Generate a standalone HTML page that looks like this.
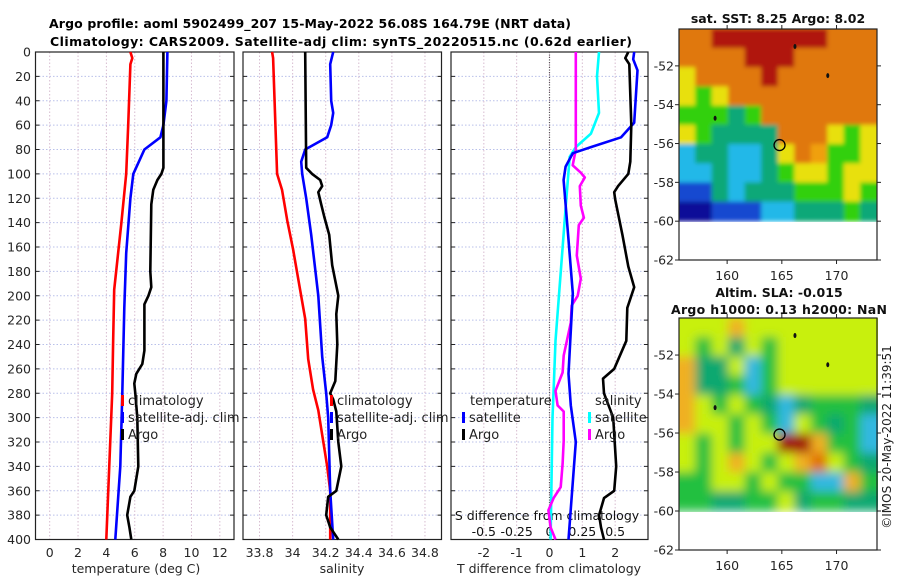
<!DOCTYPE html>
<html><head><meta charset="utf-8"><style>
html,body{margin:0;padding:0;background:#fff;}
svg{display:block;font-family:"DejaVu Sans","Liberation Sans",sans-serif;}
</style></head><body>
<svg id="fig" width="900" height="580" viewBox="0 0 900 580" xmlns="http://www.w3.org/2000/svg">
<defs>
<filter id="blurA" filterUnits="userSpaceOnUse" x="670" y="20" width="220" height="210"><feGaussianBlur stdDeviation="2"/></filter>
<filter id="blurB" filterUnits="userSpaceOnUse" x="670" y="305" width="220" height="215"><feGaussianBlur stdDeviation="5"/></filter>
<clipPath id="clipTop"><rect x="679" y="29" width="198" height="193"/></clipPath>
<clipPath id="clipBot"><rect x="679" y="318" width="199" height="194"/></clipPath>
</defs>
<text x="310" y="28" text-anchor="middle" font-weight="bold" font-size="12.5" textLength="522">Argo profile: aoml 5902499_207 15-May-2022 56.08S 164.79E (NRT data)</text>
<text x="341" y="46" text-anchor="middle" font-weight="bold" font-size="12.5" textLength="582">Climatology: CARS2009. Satellite-adj clim: synTS_20220515.nc (0.62d earlier)</text>
<g id="plots"></g>
<g id="maps"></g>
</svg>
<script>
// ---------- Data ----------
const depthTicks = [0,20,40,60,80,100,120,140,160,180,200,220,240,260,280,300,320,340,360,380,400];
const tempTicks = [0,2,4,6,8,10,12];
const salTicks = [33.8,34,34.2,34.4,34.6,34.8];
const salTickLabels = ["33.8","34","34.2","34.4","34.6","34.8"];
const tdiffTicks = [-2,-1,0,1,2];
const sdiffTicks = [-0.5,-0.25,0,0.25,0.5];
const sdiffTickLabels = ["-0.5","-0.25","0","0.25","0.5"];

const tClimDepth = [0,5,10,60,100,140,195,235,280,400];
const tClimVal = [5.69,5.83,5.69,5.54,5.40,5.06,4.55,4.48,4.41,3.99];
const tSatDepth = [0,40,60,70,80,100,120,165,210,280,340,400];
const tSatVal = [8.30,8.23,8.02,7.81,6.68,5.90,5.69,5.40,5.26,5.12,4.98,4.63];
const tArgoDepth = [0,95,100,105,113,125,180,193,200,207,245,256,264,272,280,300,340,360,365,380,390,400];
const tArgoVal = [8.02,8.02,7.88,7.60,7.31,7.17,7.10,7.17,6.96,6.68,6.68,6.53,6.11,5.97,6.04,6.18,6.25,5.97,5.69,5.47,5.62,5.76];

const sClimDepth = [0,5,100,113,138,162,195,219,252,277,294,340,360,400];
const sClimVal = [33.876,33.882,33.906,33.936,33.967,34.003,34.045,34.076,34.094,34.124,34.155,34.209,34.227,34.227];
const sSatDepth = [0,10,40,50,60,70,80,90,100,120,150,200,250,280,300,360,400];
const sSatVal = [34.245,34.227,34.233,34.245,34.233,34.209,34.076,34.052,34.058,34.082,34.112,34.155,34.179,34.203,34.215,34.227,34.245];
const sArgoDepth = [0,95,100,105,110,115,125,135,150,175,200,215,240,270,280,285,295,320,340,360,365,380,390,400];
const sArgoVal = [34.076,34.082,34.118,34.167,34.179,34.155,34.173,34.191,34.221,34.239,34.276,34.264,34.270,34.258,34.227,34.245,34.264,34.276,34.294,34.264,34.215,34.203,34.227,34.276];

const dTSatDepth = [0,6,15,58,70,78,83,94,105,154,198,264,290,320,400];
const dTSatVal = [2.58,2.55,2.68,2.58,2.18,1.26,0.71,0.49,0.43,0.58,0.71,0.58,0.65,0.80,0.58];
const dTArgoDepth = [0,5,10,60,90,100,110,115,121,150,176,193,210,237,260,268,280,300,340,360,366,380,390,400];
const dTArgoVal = [2.40,2.31,2.43,2.49,2.46,2.40,2.09,1.97,2.00,2.22,2.40,2.58,2.37,2.34,1.97,1.63,1.66,1.94,2.03,1.97,1.66,1.51,1.57,1.66];
const dSSatDepth = [0,20,50,67,78,86,127,181,237,278,300,400];
const dSSatVal = [0.377,0.362,0.377,0.315,0.2,0.154,0.123,0.085,0.046,0.031,0.023,0.008];
const dSArgoDepth = [0,80,93,99,103,110,126,136,142,167,186,200,208,222,249,263,278,290,295,319,338,357,366,376,390,400];
const dSArgoVal = [0.2,0.2,0.177,0.238,0.269,0.231,0.238,0.262,0.223,0.208,0.238,0.215,0.169,0.162,0.108,0.1,0.046,0.062,0.108,0.108,0.1,0.085,0.031,-0.008,0.008,0.046];

const latTicks = [-52,-54,-56,-58,-60,-62];
const lonTicks = [160,165,170];
const sstGrid = [
"OORRRRRRROOO",
"OOOORRROOOOO",
"YOOOOROOOOOO",
"YGYOOOOOOOOO",
"GGGTGOOOOOOO",
"YGTTTTOOOYGY",
"CTTCCTYOoGGY",
"CCTCCTGYYGYY",
"BBTCTTTGGGYG",
"NNBBBCCTTTGT"];
const slaGrid = [
"YYYoYYYYYYYY",
"YGYTYGYYYYYY",
"oTTYCGYYYYYY",
"oTTGCGYYYYYY",
"oYGYGTCTGGGT",
"oYYGYGCYGTGC",
"YGYGYYRRoGGC",
"YGYoYGYoOYGT",
"GGYYGYGGCCoG",
"GGTTGGYTGGTT"];
const floatLon = 164.79, floatLat = -56.08;

// ---------- Helpers ----------
const NS = "http://www.w3.org/2000/svg";
const plots = document.getElementById('plots');
const maps = document.getElementById('maps');
function mk(tag, attrs, parent){const e=document.createElementNS(NS,tag);for(const k in attrs)e.setAttribute(k,attrs[k]);(parent||plots).appendChild(e);return e;}
const Y0=52, Y1=539.5;
function yD(d){return Y0+(d/400)*(Y1-Y0);}
function lin(a,b,p,q){return v=>p+(v-a)/(b-a)*(q-p);}
const panels=[
 {x0:35.5,x1:234,min:-1,max:13,name:'temperature'},
 {x0:243,x1:441.5,min:33.7,max:34.9,name:'salinity'},
 {x0:451,x1:648,min:-3,max:3,name:'difference'}];
panels.forEach(p=>p.x=lin(p.min,p.max,p.x0,p.x1));
const sx3 = lin(-0.75,0.75,panels[2].x0,panels[2].x1);

function gridAndBox(p,xt,idx){
  const g=mk('g',{});
  
  
  depthTicks.forEach(d=>{mk('line',{x1:p.x0,x2:p.x1,y1:yD(d),y2:yD(d),stroke:'#b9c0ea','stroke-width':1,'stroke-dasharray':'1.5,2'},g);});
  xt.forEach(v=>{mk('line',{x1:p.x(v),x2:p.x(v),y1:Y0,y2:Y1,stroke:'#d7bcd0','stroke-width':1,'stroke-dasharray':'1.5,2'},g);});
  depthTicks.forEach(d=>{mk('line',{x1:p.x0,x2:p.x0+4,y1:yD(d),y2:yD(d),stroke:'#222'},g);mk('line',{x1:p.x1,x2:p.x1-4,y1:yD(d),y2:yD(d),stroke:'#222'},g);});
  const r=mk('rect',{x:p.x0,y:Y0,width:p.x1-p.x0,height:Y1-Y0,fill:'none',stroke:'#222','stroke-width':1.2});
  
  
}
function line(p,xs,ds,col,name,sc){
  const f=sc||p.x;
  const pts=xs.map((v,i)=>f(v).toFixed(1)+','+yD(ds[i]).toFixed(1)).join(' ');
  const pl=mk('polyline',{points:pts,fill:'none',stroke:col,'stroke-width':2.6,'stroke-linejoin':'round'});
  
  
}
function txt(x,y,s,attrs,parent){const t=mk('text',Object.assign({x:x,y:y,'font-size':12.5,fill:'#262626'},attrs||{}),parent);t.textContent=s;return t;}

gridAndBox(panels[0],tempTicks,0);
gridAndBox(panels[1],salTicks,1);
gridAndBox(panels[2],tdiffTicks,2);
const zl=mk('line',{x1:panels[2].x(0),x2:panels[2].x(0),y1:Y0,y2:Y1,stroke:'#555','stroke-width':1.2,'stroke-dasharray':'1,1.5'});



depthTicks.forEach(d=>{const t=txt(31,yD(d)+4.5,String(d),{'text-anchor':'end'});

});
tempTicks.forEach(v=>{const t=txt(panels[0].x(v),557,String(v),{'text-anchor':'middle'});

});
salTicks.forEach((v,i)=>{const t=txt(panels[1].x(v),557,salTickLabels[i],{'text-anchor':'middle'});

});
tdiffTicks.forEach(v=>{const t=txt(panels[2].x(v),557,String(v),{'text-anchor':'middle'});

});
sdiffTicks.forEach((v,i)=>{const t=txt(sx3(v),536,sdiffTickLabels[i],{'text-anchor':'middle','fill':'#111'});

});
let t;
t=txt(136,573,'temperature (deg C)',{'text-anchor':'middle'});


t=txt(342,573,'salinity',{'text-anchor':'middle'});


t=txt(549,573,'T difference from climatology',{'text-anchor':'middle'});


t=txt(547,520,'S difference from climatology',{'text-anchor':'middle','fill':'#111'});



line(panels[0],tClimVal,tClimDepth,'#ff0000','temperature-climatology-line');
line(panels[0],tSatVal,tSatDepth,'#0000ff','temperature-satellite-line');
line(panels[0],tArgoVal,tArgoDepth,'#000000','temperature-argo-line');
line(panels[1],sClimVal,sClimDepth,'#ff0000','salinity-climatology-line');
line(panels[1],sSatVal,sSatDepth,'#0000ff','salinity-satellite-line');
line(panels[1],sArgoVal,sArgoDepth,'#000000','salinity-argo-line');
line(panels[2],dSSatVal,dSSatDepth,'#00ffff','s-diff-satellite-line',sx3);
line(panels[2],dSArgoVal,dSArgoDepth,'#ff00ff','s-diff-argo-line',sx3);
line(panels[2],dTSatVal,dTSatDepth,'#0000ff','t-diff-satellite-line');
line(panels[2],dTArgoVal,dTArgoDepth,'#000000','t-diff-argo-line');

function legend(x,y,col,label,name){
  const g=mk('g',{});
  
  
  mk('rect',{x:x,y:y-10,width:3,height:11,fill:col},g);
  txt(x+7,y,label,{'font-size':13,fill:'#222'},g);
}
legend(121,405,'#ff0000','climatology','legend-entry-climatology');
legend(121,422,'#0000ff','satellite-adj. clim','legend-entry-satellite-adj');
legend(121,439,'#000000','Argo','legend-entry-argo');
legend(330,405,'#ff0000','climatology','legend-entry-climatology-sal');
legend(330,422,'#0000ff','satellite-adj. clim','legend-entry-satellite-adj-sal');
legend(330,439,'#000000','Argo','legend-entry-argo-sal');
t=txt(470,405,'temperature',{'font-size':13,fill:'#222'});


t=txt(595,405,'salinity',{'font-size':13,fill:'#222'});


legend(462,422,'#0000ff','satellite','legend-entry-t-satellite');
legend(462,439,'#000000','Argo','legend-entry-t-argo');
legend(588,422,'#00ffff','satellite','legend-entry-s-satellite');
legend(588,439,'#ff00ff','Argo','legend-entry-s-argo');

// ---------- Maps ----------
const sstCol={R:'#b01808',O:'#e07808',o:'#f0a010',Y:'#e8e010',G:'#30d010',T:'#10a878',C:'#20b8e8',B:'#1848d0',N:'#081098'};
const slaCol={Y:'#c8f010',o:'#f0b020',O:'#e07000',R:'#a00808',G:'#20c040',T:'#10a870',C:'#30b8e0'};
function drawMap(top,bottom,grid,cols,clipId,filt,name){
  const x0=679,x1=877;
  const lonX=lin(155.6,173.7,x0,x1);
  const latY=lin(-50.1,-62,top,bottom);
  const g=mk('g',{'clip-path':'url(#'+clipId+')'},maps);
  
  
  const gi=mk('g',{filter:'url(#'+filt+')'},g);
  const rows=grid.length, nc=grid[0].length;
  const yTop=latY(-50.1), yBot=latY(-60);
  const cw=(x1-x0)/nc, rh=(yBot-yTop)/rows;
  mk('rect',{x:x0-10,y:yTop-10,width:x1-x0+20,height:10,fill:cols[grid[0][0]]},gi);
  for(let r=0;r<rows;r++)for(let c=0;c<nc;c++){
    const w=(c===0||c===nc-1)?cw+10:cw+0.6;
    const xx=(c===0)?x0-10:x0+c*cw-0.3;
    mk('rect',{x:xx,y:yTop+r*rh-0.3,width:w,height:rh+0.6,fill:cols[grid[r][c]]},gi);
  }
  const frame=mk('rect',{x:x0,y:top,width:x1-x0,height:bottom-top,fill:'none',stroke:'#222','stroke-width':1.2},maps);
  
  
  latTicks.forEach(v=>{mk('line',{x1:x0-4,x2:x0,y1:latY(v),y2:latY(v),stroke:'#222'},maps);mk('line',{x1:x1,x2:x1+4,y1:latY(v),y2:latY(v),stroke:'#222'},maps);
    const tt=txt(674,latY(v)+4.5,String(v),{'text-anchor':'end'},maps);
    
    });
  lonTicks.forEach(v=>{mk('line',{x1:lonX(v),x2:lonX(v),y1:bottom,y2:bottom+4,stroke:'#222'},maps);mk('line',{x1:lonX(v),x2:lonX(v),y1:top-4,y2:top,stroke:'#222'},maps);
    const tt=txt(lonX(v),bottom+20,String(v),{'text-anchor':'middle'},maps);
    
    });
  [[166.2,-51.0],[169.2,-52.5],[158.9,-54.7]].forEach(p=>{mk('ellipse',{cx:lonX(p[0]),cy:latY(p[1]),rx:1.5,ry:2.5,fill:'#111'},maps);});
  const c=mk('circle',{cx:lonX(floatLon),cy:latY(floatLat),r:5.5,fill:'none',stroke:'#000','stroke-width':1.3},maps);
  
  
}
drawMap(29,260,sstGrid,sstCol,'clipTop','blurA','sst-map');
drawMap(318,550,slaGrid,slaCol,'clipBot','blurB','sla-map');
t=txt(778,23,'sat. SST: 8.25 Argo: 8.02',{'text-anchor':'middle','font-weight':'bold','font-size':12.5,fill:'#111'},maps);


t=txt(779,297,'Altim. SLA: -0.015',{'text-anchor':'middle','font-weight':'bold','font-size':12.5,fill:'#111'},maps);


t=txt(779,314,'Argo h1000: 0.13 h2000: NaN',{'text-anchor':'middle','font-weight':'bold','font-size':12.5,fill:'#111',textLength:216},maps);


t=txt(0,0,'©IMOS 20-May-2022 11:39:51',{'text-anchor':'middle','font-size':12,fill:'#222',transform:'translate(891,437) rotate(-90)'},maps);


</script>
</body></html>
